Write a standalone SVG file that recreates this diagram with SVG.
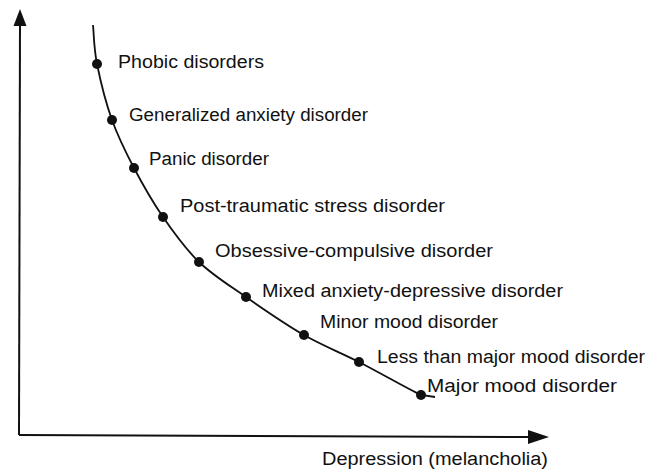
<svg xmlns="http://www.w3.org/2000/svg" width="658" height="472" viewBox="0 0 658 472">
<style>
text{font-family:"Liberation Sans",Arial,sans-serif;font-size:18px;fill:#111}
.ax{stroke:#111;stroke-width:2;fill:none}
.cv{stroke:#111;stroke-width:1.8;fill:none}
.dot{fill:#111}
</style>
<rect width="658" height="472" fill="#fff"/>
<g id="connectors">
<path class="ax" d="M19,435 L20,24"/>
<path d="M13.5,26 L20,9 L26.5,26 Z" fill="#111"/>
<path class="ax" d="M19,435 L530,437"/>
<path d="M528,430 L549,437 L528,444 Z" fill="#111"/>
<path id="curve" class="cv" d="M93,25 C93.7,31.5 93.8,48.2 97,64 C100.2,79.8 105.8,102.7 112,120 C118.2,137.3 125.5,151.8 134,168 C142.5,184.2 152.2,201.3 163,217 C173.8,232.7 185.2,248.7 199,262 C212.8,275.3 228.5,284.8 246,297 C263.5,309.2 285.2,324.2 304,335 C322.8,345.8 339.5,352 359,362 C378.5,372 408.3,389.2 421,395 L435,397"/>
</g>
<g id="n1"><circle class="dot" cx="97" cy="64" r="5"/><text x="118" y="68" textLength="146" lengthAdjust="spacingAndGlyphs">Phobic disorders</text></g>
<g id="n2"><circle class="dot" cx="112" cy="120" r="5"/><text x="129" y="121" textLength="239" lengthAdjust="spacingAndGlyphs">Generalized anxiety disorder</text></g>
<g id="n3"><circle class="dot" cx="134" cy="168" r="5"/><text x="149" y="165" textLength="120" lengthAdjust="spacingAndGlyphs">Panic disorder</text></g>
<g id="n4"><circle class="dot" cx="163" cy="217" r="5"/><text x="180" y="212" textLength="265" lengthAdjust="spacingAndGlyphs">Post-traumatic stress disorder</text></g>
<g id="n5"><circle class="dot" cx="199" cy="262" r="5"/><text x="215" y="257" textLength="278" lengthAdjust="spacingAndGlyphs">Obsessive-compulsive disorder</text></g>
<g id="n6"><circle class="dot" cx="246" cy="297" r="5"/><text x="262" y="297" textLength="301" lengthAdjust="spacingAndGlyphs">Mixed anxiety-depressive disorder</text></g>
<g id="n7"><circle class="dot" cx="304" cy="335" r="5"/><text x="320" y="328" textLength="178" lengthAdjust="spacingAndGlyphs">Minor mood disorder</text></g>
<g id="n8"><circle class="dot" cx="359" cy="362" r="5"/><text x="377" y="363" textLength="268" lengthAdjust="spacingAndGlyphs">Less than major mood disorder</text></g>
<g id="n9"><circle class="dot" cx="421" cy="395" r="5"/><text x="427" y="392" textLength="190" lengthAdjust="spacingAndGlyphs">Major mood disorder</text></g>
<g id="xlabel"><text x="322" y="465" textLength="226" lengthAdjust="spacingAndGlyphs">Depression (melancholia)</text></g>
</svg>
